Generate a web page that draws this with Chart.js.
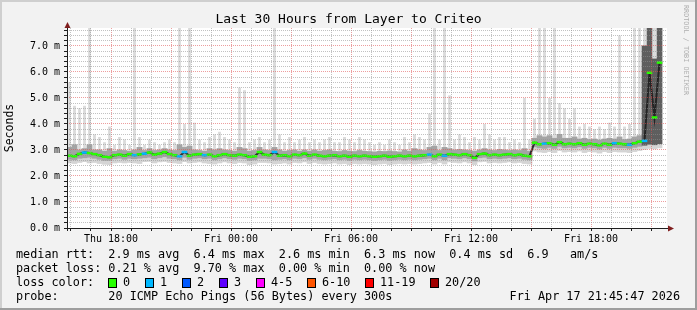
<!DOCTYPE html>
<html>
<head>
<meta charset="utf-8">
<script src="https://cdn.jsdelivr.net/npm/chart.js@4.4.1/dist/chart.umd.min.js"></script>
<style>
  html, body { margin: 0; padding: 0; background: #f2f2f2; }
  canvas { display: block; }
</style>
</head>
<body>
<canvas id="smokePlot" width="697" height="310"></canvas>
<script>
// 15 minute samples, hours counted from Thu 00:00
const startHour = 15.8;
const endHour = 45.8;
const stepHours = 0.25;

// median rtt in ms
const medianRtt = [
  2.78, 2.76, 2.85, 2.90, 2.88, 2.84, 2.80, 2.74, 2.72, 2.80,
  2.82, 2.78, 2.84, 2.80, 2.83, 2.86, 2.90, 2.82, 2.86, 2.92,
  2.84, 2.80, 2.76, 2.92, 2.78, 2.82, 2.84, 2.80, 2.82, 2.76,
  2.80, 2.84, 2.80, 2.78, 2.82, 2.80, 2.74, 2.76, 2.92, 2.82,
  2.80, 2.92, 2.78, 2.80, 2.76, 2.82, 2.80, 2.86, 2.78, 2.82,
  2.78, 2.76, 2.78, 2.80, 2.76, 2.78, 2.74, 2.78, 2.76, 2.78,
  2.76, 2.74, 2.76, 2.78, 2.74, 2.76, 2.78, 2.76, 2.78, 2.76,
  2.78, 2.80, 2.82, 2.76, 2.82, 2.78, 2.84, 2.82, 2.80, 2.84,
  2.80, 2.70, 2.84, 2.86, 2.80, 2.82, 2.80, 2.82, 2.84, 2.80,
  2.82, 2.78, 2.76, 3.28, 3.22, 3.24, 3.26, 3.20, 3.30, 3.22,
  3.24, 3.22, 3.26, 3.20, 3.24, 3.22, 3.18, 3.24, 3.20, 3.26,
  3.24, 3.22, 3.20, 3.26, 3.32, 3.35, 5.97, 4.25, 6.36
];
// fastest ping
const minRtt = [
  2.50, 2.48, 2.52, 2.55, 2.50, 2.52, 2.48, 2.45, 2.44, 2.50,
  2.52, 2.50, 2.52, 2.50, 2.48, 2.55, 2.56, 2.50, 2.54, 2.56,
  2.52, 2.50, 2.48, 2.55, 2.50, 2.52, 2.54, 2.50, 2.48, 2.46,
  2.50, 2.54, 2.50, 2.48, 2.52, 2.50, 2.44, 2.46, 2.52, 2.52,
  2.50, 2.46, 2.48, 2.50, 2.46, 2.52, 2.50, 2.54, 2.48, 2.52,
  2.48, 2.46, 2.48, 2.50, 2.46, 2.48, 2.44, 2.48, 2.46, 2.48,
  2.46, 2.44, 2.46, 2.48, 2.44, 2.46, 2.48, 2.46, 2.48, 2.46,
  2.48, 2.50, 2.52, 2.46, 2.52, 2.46, 2.54, 2.52, 2.50, 2.54,
  2.50, 2.44, 2.54, 2.56, 2.50, 2.52, 2.50, 2.52, 2.54, 2.50,
  2.52, 2.48, 2.46, 2.96, 2.92, 2.90, 2.94, 2.90, 2.98, 2.92,
  2.94, 2.92, 2.96, 2.90, 2.94, 2.92, 2.88, 2.94, 2.90, 2.94,
  2.92, 2.92, 2.90, 2.94, 2.98, 3.02, 3.06, 3.04, 3.08
];
// lower / upper quartile of the 20 pings
const lowQuart = [
  2.64, 2.62, 2.68, 2.70, 2.72, 2.68, 2.64, 2.60, 2.60, 2.66,
  2.68, 2.64, 2.68, 2.66, 2.68, 2.70, 2.72, 2.66, 2.70, 2.74,
  2.68, 2.66, 2.62, 2.72, 2.64, 2.68, 2.70, 2.66, 2.68, 2.62,
  2.66, 2.70, 2.66, 2.64, 2.68, 2.66, 2.60, 2.62, 2.68, 2.68,
  2.66, 2.62, 2.64, 2.66, 2.62, 2.68, 2.66, 2.70, 2.64, 2.68,
  2.64, 2.62, 2.64, 2.66, 2.62, 2.64, 2.60, 2.64, 2.62, 2.64,
  2.62, 2.60, 2.62, 2.64, 2.60, 2.62, 2.64, 2.62, 2.64, 2.62,
  2.64, 2.66, 2.68, 2.62, 2.68, 2.62, 2.70, 2.68, 2.66, 2.70,
  2.66, 2.58, 2.70, 2.72, 2.66, 2.68, 2.66, 2.68, 2.70, 2.66,
  2.68, 2.64, 2.62, 3.12, 3.08, 3.06, 3.10, 3.06, 3.14, 3.08,
  3.10, 3.08, 3.12, 3.06, 3.10, 3.08, 3.04, 3.10, 3.06, 3.10,
  3.08, 3.08, 3.06, 3.10, 3.14, 3.18, 3.22, 3.20, 3.24
];
const highQuart = [
  3.10, 3.20, 3.00, 3.05, 3.20, 3.00, 3.00, 2.95, 3.05, 2.95,
  3.00, 2.98, 2.95, 3.00, 3.10, 2.98, 3.05, 2.98, 3.00, 3.05,
  3.00, 2.98, 3.20, 3.10, 3.15, 3.00, 2.98, 2.95, 3.05, 3.00,
  3.05, 3.00, 2.98, 2.95, 3.10, 3.05, 2.95, 2.98, 3.10, 3.00,
  2.98, 3.10, 3.00, 2.95, 2.98, 3.00, 2.95, 3.00, 2.95, 3.00,
  2.95, 2.98, 3.00, 2.95, 2.94, 2.98, 2.95, 2.94, 2.98, 2.95,
  2.94, 2.92, 2.95, 2.94, 2.96, 2.94, 2.92, 3.00, 2.95, 3.05,
  3.00, 2.98, 3.10, 3.15, 2.98, 3.10, 3.05, 3.00, 3.02, 3.00,
  2.98, 2.95, 3.00, 3.05, 3.00, 2.98, 3.02, 3.00, 2.98, 3.00,
  2.98, 3.05, 2.95, 3.45, 3.55, 3.50, 3.55, 3.45, 3.60, 3.45,
  3.45, 3.50, 3.42, 3.45, 3.40, 3.42, 3.38, 3.42, 3.45, 3.42,
  3.50, 3.40, 3.42, 3.50, 3.55, 7.00, 7.70, 6.50, 7.70
];
// slowest ping
const maxRtt = [
  5.60, 4.70, 4.60, 4.70, 7.70, 3.60, 3.50, 3.30, 3.90, 3.20,
  3.50, 3.40, 3.20, 7.70, 3.50, 3.20, 3.40, 3.30, 3.20, 3.30,
  3.40, 3.30, 7.70, 4.00, 7.70, 4.05, 3.40, 3.30, 3.50, 3.60,
  3.70, 3.50, 3.40, 3.30, 5.40, 5.30, 3.30, 3.40, 3.50, 3.30,
  3.40, 7.70, 3.60, 3.30, 3.50, 3.30, 3.40, 3.50, 3.30, 3.40,
  3.30, 3.40, 3.50, 3.30, 3.30, 3.50, 3.40, 3.30, 3.50, 3.40,
  3.30, 3.20, 3.30, 3.20, 3.40, 3.30, 3.20, 3.50, 3.30, 3.60,
  3.50, 3.40, 4.40, 7.70, 3.40, 7.70, 5.10, 3.40, 3.60, 3.50,
  3.30, 3.50, 3.40, 4.00, 3.60, 3.40, 3.50, 3.50, 3.30, 3.40,
  3.30, 5.00, 3.40, 4.20, 7.70, 7.70, 5.00, 7.70, 4.80, 4.60,
  4.20, 4.60, 3.90, 4.00, 3.90, 3.80, 3.90, 3.80, 4.05, 3.90,
  7.40, 3.90, 4.00, 7.70, 7.70, 7.70, 7.70, 7.70, 7.70
];
// lost pings (of 20) per sample
const lostPings = [
  0, 0, 0, 1, 0, 0, 0, 0, 0, 0,
  0, 0, 0, 1, 0, 1, 0, 0, 0, 0,
  0, 0, 1, 1, 0, 0, 0, 1, 0, 0,
  0, 0, 0, 0, 0, 0, 0, 0, 0, 0,
  0, 1, 0, 0, 0, 0, 0, 0, 0, 0,
  0, 0, 0, 0, 0, 0, 0, 0, 0, 0,
  0, 0, 0, 0, 0, 0, 0, 0, 0, 0,
  0, 0, 1, 0, 0, 1, 0, 0, 0, 0,
  0, 0, 0, 0, 0, 0, 0, 0, 0, 0,
  0, 0, 0, 0, 0, 1, 0, 0, 0, 0,
  0, 0, 0, 0, 0, 0, 0, 0, 0, 1,
  0, 0, 1, 0, 0, 1, 0, 0, 0
];

const tickHours = [18, 24, 30, 36, 42];
const tickLabels = ['Thu 18:00', 'Fri 00:00', 'Fri 06:00', 'Fri 12:00', 'Fri 18:00'];

const lossLabels = ['0', '1', '2', '3', '4-5', '6-10', '11-19', '20/20'];
const lossColors = ['#26ff00', '#00b8ff', '#0059ff', '#5e00ff', '#ff00ff', '#ff5500', '#ff0000', '#a00000'];
const lossBoxX = [108, 145, 182, 219, 256, 307, 365, 430];

const titleText = 'Last 30 Hours from Layer to Criteo';
const rttLine = 'median rtt:  2.9 ms avg  6.4 ms max  2.6 ms min  6.3 ms now  0.4 ms sd  6.9   am/s';
const lossLine = 'packet loss: 0.21 % avg  9.70 % max  0.00 % min  0.00 % now';
const probeLine = 'probe:       20 ICMP Echo Pings (56 Bytes) every 300s';
const stampText = 'Fri Apr 17 21:45:47 2026';

const mono = '"DejaVu Sans Mono", monospace';

function lossBucket(n) {
  if (n <= 3) return n;
  if (n <= 5) return 4;
  if (n <= 10) return 5;
  if (n <= 19) return 6;
  return 7;
}

const hourAt = i => startHour + stepHours / 2 + i * stepHours;
const pairs = arr => arr.map((v, i) => ({ x: hourAt(i), y: v }));
const bands = (a, b) => a.map((v, i) => ({ x: hourAt(i), y: [v, b[i]] }));

const decor = {
  id: 'decor',
  beforeDraw(chart) {
    const { ctx, chartArea: a } = chart;
    ctx.save();
    ctx.fillStyle = '#f2f2f2';
    ctx.fillRect(0, 0, chart.width, chart.height);
    ctx.fillStyle = '#ffffff';
    ctx.fillRect(a.left, a.top, a.right - a.left, a.bottom - a.top);
    ctx.restore();
  },
  afterDraw(chart) {
    const { ctx, chartArea: a } = chart;
    const W = chart.width, H = chart.height;
    ctx.save();
    // frame shading
    ctx.fillStyle = '#cfcfcf';
    ctx.fillRect(0, 0, W, 2);
    ctx.fillRect(0, 0, 2, H);
    ctx.fillStyle = '#9e9e9e';
    ctx.fillRect(0, H - 2, W, 2);
    ctx.fillRect(W - 2, 0, 2, H);

    // axes
    ctx.strokeStyle = '#1f1f1f';
    ctx.lineWidth = 1;
    ctx.beginPath();
    ctx.moveTo(a.left - 3, a.bottom + 0.5);
    ctx.lineTo(a.right + 1, a.bottom + 0.5);
    ctx.moveTo(a.left + 0.5, a.bottom + 3);
    ctx.lineTo(a.left + 0.5, a.top - 1);
    ctx.stroke();
    ctx.fillStyle = '#801f1f';
    ctx.beginPath();
    ctx.moveTo(a.right + 7, a.bottom + 0.5);
    ctx.lineTo(a.right + 1, a.bottom - 2.5);
    ctx.lineTo(a.right + 1, a.bottom + 3.5);
    ctx.closePath();
    ctx.fill();
    ctx.beginPath();
    ctx.moveTo(a.left + 0.5, a.top - 6);
    ctx.lineTo(a.left - 2.5, a.top);
    ctx.lineTo(a.left + 3.5, a.top);
    ctx.closePath();
    ctx.fill();

    // title
    ctx.fillStyle = '#000';
    ctx.textBaseline = 'middle';
    ctx.textAlign = 'center';
    ctx.font = '13px ' + mono;
    ctx.fillText(titleText, W / 2, 19.5);

    // watermark
    ctx.save();
    ctx.translate(686, 5);
    ctx.rotate(Math.PI / 2);
    ctx.textAlign = 'left';
    ctx.fillStyle = 'rgba(0,0,0,0.3)';
    ctx.font = '6.8px ' + mono;
    ctx.fillText('RRDTOOL / TOBI OETIKER', 0, 0);
    ctx.restore();

    // legend
    ctx.textAlign = 'left';
    ctx.font = '11.8px ' + mono;
    ctx.fillText(rttLine, 16, 255);
    ctx.fillText(lossLine, 16, 268.5);
    ctx.fillText('loss color:', 16, 282.5);
    ctx.fillText(probeLine, 16, 296.5);
    ctx.textAlign = 'right';
    ctx.fillText(stampText, 680, 296.5);
    ctx.textAlign = 'left';
    lossLabels.forEach((lab, k) => {
      const bx = lossBoxX[k];
      ctx.fillStyle = lossColors[k];
      ctx.fillRect(bx, 278, 8, 9);
      ctx.strokeStyle = '#000';
      ctx.strokeRect(bx + 0.5, 278.5, 8, 9);
      ctx.fillStyle = '#000';
      ctx.fillText(lab, bx + 15, 282.5);
    });
    ctx.restore();
  }
};

const isWhole = v => Math.abs(v - Math.round(v)) < 1e-6;
const minorGrid = 'rgba(143,143,143,0.55)';
const majorGrid = 'rgba(222,79,79,0.55)';

new Chart(document.getElementById('smokePlot'), {
  type: 'bar',
  data: {
    datasets: [
      {
        label: 'slow pings',
        data: bands(minRtt, maxRtt),
        backgroundColor: '#dadada',
        grouped: false,
        barPercentage: 0.55,
        categoryPercentage: 1,
        borderWidth: 0,
        order: 5
      },
      {
        label: 'ping spread',
        data: bands(minRtt, highQuart),
        backgroundColor: '#d4d4d4',
        grouped: false,
        barPercentage: 1,
        categoryPercentage: 1,
        borderWidth: 0,
        order: 4
      },
      {
        label: 'quartiles',
        data: bands(lowQuart, highQuart),
        backgroundColor: c => {
          const i = c.dataIndex;
          return highQuart[i] - lowQuart[i] > 2 ? '#5e5e5e' : '#a4a4a4';
        },
        grouped: false,
        barPercentage: 1,
        categoryPercentage: 1,
        borderWidth: 0,
        order: 3
      },
      {
        type: 'line',
        label: 'smoke core',
        data: pairs(medianRtt),
        borderColor: 'rgba(30,30,30,0.9)',
        borderWidth: 2,
        pointRadius: 0,
        tension: 0,
        order: 2
      },
      {
        type: 'line',
        label: 'median rtt',
        data: pairs(medianRtt),
        showLine: false,
        pointStyle: 'line',
        pointRadius: 2.8,
        pointBorderWidth: 2.5,
        pointBorderColor: lostPings.map(n => lossColors[lossBucket(n)]),
        order: 1
      }
    ]
  },
  options: {
    responsive: false,
    animation: false,
    layout: { padding: { left: 0, right: 30, top: 28, bottom: 0 } },
    plugins: {
      legend: { display: false },
      title: { display: false },
      tooltip: { enabled: false }
    },
    scales: {
      x: {
        type: 'linear',
        offset: false,
        min: startHour,
        max: endHour,
        afterFit: s => { s.height = 82; },
        afterBuildTicks: s => {
          const t = [];
          for (let h = Math.ceil(startHour); h < endHour; h++) t.push({ value: h });
          s.ticks = t;
        },
        ticks: {
          autoSkip: false,
          maxRotation: 0,
          padding: 2,
          color: '#000',
          font: { family: mono, size: 10 },
          callback: v => {
            const k = tickHours.indexOf(v);
            return k >= 0 ? tickLabels[k] : '';
          }
        },
        grid: {
          z: 1,
          offset: false,
          color: c => (c.tick && c.tick.value % 3 === 0) ? majorGrid : minorGrid,
          tickLength: 3,
          tickColor: '#1f1f1f'
        },
        border: { display: false, dash: [1, 1] }
      },
      y: {
        type: 'linear',
        min: 0,
        max: 7.69,
        afterFit: s => { s.width = 67; },
        ticks: {
          stepSize: 0.2,
          includeBounds: false,
          autoSkip: false,
          padding: 4,
          color: '#000',
          font: { family: mono, size: 10 },
          callback: v => isWhole(v) ? v.toFixed(1) + ' m' : ''
        },
        grid: {
          z: 1,
          color: c => (c.tick && isWhole(c.tick.value)) ? majorGrid : minorGrid,
          tickLength: 3,
          tickColor: '#1f1f1f'
        },
        border: { display: false, dash: [1, 1] },
        title: {
          display: true,
          text: 'Seconds',
          color: '#000',
          padding: 3,
          font: { family: mono, size: 11.5 }
        }
      }
    }
  },
  plugins: [decor]
});
</script>
</body>
</html>
